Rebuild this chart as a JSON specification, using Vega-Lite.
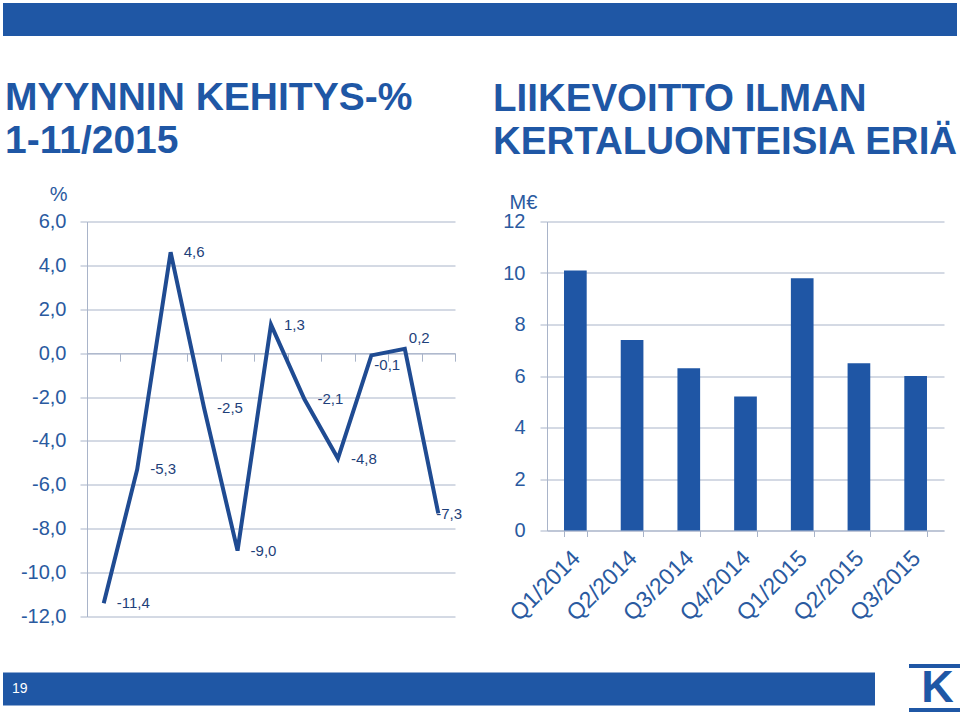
{
  "$schema": "https://vega.github.io/schema/vega-lite/v6.json",
  "background": "white",
  "padding": {"left": 3, "top": 3, "right": 2, "bottom": 3},
  "datasets": {
    "sales": [
      {"month": 1, "value": -11.4},
      {"month": 2, "value": -5.3},
      {"month": 3, "value": 4.6},
      {"month": 4, "value": -2.5},
      {"month": 5, "value": -9.0},
      {"month": 6, "value": 1.3},
      {"month": 7, "value": -2.1},
      {"month": 8, "value": -4.8},
      {"month": 9, "value": -0.1},
      {"month": 10, "value": 0.2},
      {"month": 11, "value": -7.3}
    ],
    "ebit": [
      {"quarter": "Q1/2014", "value": 10.1},
      {"quarter": "Q2/2014", "value": 7.4},
      {"quarter": "Q3/2014", "value": 6.3},
      {"quarter": "Q4/2014", "value": 5.2},
      {"quarter": "Q1/2015", "value": 9.8},
      {"quarter": "Q2/2015", "value": 6.5},
      {"quarter": "Q3/2015", "value": 6.0}
    ],
    "page": [{"page": "19"}],
    "logo": [{"part": "top"}, {"part": "bottom"}],
    "logotext": [{"mark": "K"}],
    "banner": [{"text": ""}]
  },
  "config": {
    "font": "Liberation Sans",
    "view": {"stroke": null},
    "locale": {"number": {"decimal": ",", "thousands": "\u00a0", "grouping": [3], "currency": ["", "\u00a0€"], "minus": "-"}},
    "axis": {
      "labelFont": "Liberation Sans",
      "titleFont": "Liberation Sans",
      "labelColor": "#2A5AA0",
      "titleColor": "#2A5AA0",
      "gridColor": "#A9B4C9",
      "domainColor": "#A9B4C9",
      "tickColor": "#A9B4C9",
      "gridWidth": 1,
      "domainWidth": 1,
      "tickWidth": 1,
      "labelFontSize": 20,
      "titleFontSize": 20,
      "titleFontWeight": "normal"
    },
    "title": {"font": "Liberation Sans"}
  },
  "columns": 1,
  "align": "none",
  "spacing": 37.5,
  "concat": [
    {
      "width": 954,
      "height": 33,
      "view": {"fill": "#1F57A5", "stroke": null},
      "data": {"name": "banner"},
      "mark": {"type": "text"},
      "encoding": {
        "x": {"datum": 0, "type": "quantitative", "scale": {"domain": [0, 1]}, "axis": null},
        "y": {"datum": 0, "type": "quantitative", "scale": {"domain": [0, 1]}, "axis": null},
        "text": {"field": "text"}
      }
    },
    {
      "columns": 2,
      "align": "none",
      "spacing": 30,
      "concat": [
        {
          "width": 452,
          "height": 395,
          "title": {
            "text": ["MYYNNIN KEHITYS-%", "1-11/2015"],
            "anchor": "start",
            "frame": "group",
            "dx": 2,
            "offset": 23.5,
            "fontSize": 39,
            "fontWeight": "bold",
            "color": "#1F57A5",
            "lineHeight": 43
          },
          "data": {"name": "sales"},
          "encoding": {
            "x": {
              "field": "month",
              "type": "ordinal",
              "bandPosition": 0.5,
              "scale": {"type": "band", "paddingInner": 0, "paddingOuter": 0, "range": [84, 452]},
              "axis": {
                "title": null,
                "labels": false,
                "tickBand": "extent",
                "tickSize": 8,
                "offset": -263.33,
                "domain": true,
                "grid": false
              }
            },
            "y": {
              "field": "value",
              "type": "quantitative",
              "scale": {"domain": [-12, 6], "nice": false, "zero": false},
              "axis": {
                "values": [-12, -10, -8, -6, -4, -2, 0, 2, 4, 6],
                "format": ".1f",
                "grid": true,
                "offset": -84,
                "tickSize": 7,
                "labelPadding": 14,
                "title": "%",
                "titleAngle": 0,
                "titleAlign": "right",
                "titleBaseline": "alphabetic",
                "titleX": -20,
                "titleY": -21
              }
            }
          },
          "layer": [
            {
              "transform": [{"filter": "datum.month <= 8"}],
              "mark": {"type": "text", "align": "left", "baseline": "middle", "dx": 13, "fontSize": 15, "color": "#1E3F7A"},
              "encoding": {"text": {"field": "value", "format": ".1f"}}
            },
            {
              "transform": [{"filter": "datum.month == 9"}],
              "mark": {"type": "text", "align": "left", "baseline": "middle", "dx": 3, "dy": 10, "fontSize": 15, "color": "#1E3F7A"},
              "encoding": {"text": {"field": "value", "format": ".1f"}}
            },
            {
              "transform": [{"filter": "datum.month == 10"}],
              "mark": {"type": "text", "align": "left", "baseline": "middle", "dx": 4, "dy": -11, "fontSize": 15, "color": "#1E3F7A"},
              "encoding": {"text": {"field": "value", "format": ".1f"}}
            },
            {
              "transform": [{"filter": "datum.month == 11"}],
              "mark": {"type": "text", "align": "left", "baseline": "middle", "dx": -2, "dy": 1, "fontSize": 15, "color": "#1E3F7A"},
              "encoding": {"text": {"field": "value", "format": ".1f"}}
            },
            {
              "mark": {"type": "line", "color": "#1F4B92", "strokeWidth": 4, "strokeJoin": "miter"}
            }
          ]
        },
        {
          "width": 397,
          "height": 309,
          "title": {
            "text": ["LIIKEVOITTO ILMAN", "KERTALUONTEISIA ERIÄ"],
            "anchor": "start",
            "frame": "group",
            "dx": -54,
            "offset": 30,
            "fontSize": 38.5,
            "fontWeight": "bold",
            "color": "#1F57A5",
            "lineHeight": 43
          },
          "data": {"name": "ebit"},
          "mark": {"type": "bar", "color": "#1F56A5"},
          "encoding": {
            "x": {
              "field": "quarter",
              "type": "nominal",
              "sort": null,
              "scale": {"paddingInner": 0.6, "paddingOuter": 0.3},
              "axis": {
                "title": null,
                "labelAngle": -45,
                "labelAlign": "right",
                "labelBaseline": "top",
                "labelPadding": 10,
                "labelOffset": -7,
                "labelFontSize": 23,
                "tickBand": "extent",
                "tickSize": 6
              }
            },
            "y": {
              "field": "value",
              "type": "quantitative",
              "scale": {"domain": [0, 12], "nice": false},
              "axis": {
                "values": [0, 2, 4, 6, 8, 10, 12],
                "format": "d",
                "grid": true,
                "tickSize": 7,
                "labelPadding": 15,
                "title": "M€",
                "titleAngle": 0,
                "titleAlign": "left",
                "titleBaseline": "alphabetic",
                "titleX": -38,
                "titleY": -13
              }
            }
          }
        }
      ]
    },
    {
      "spacing": 32,
      "center": true,
      "hconcat": [
        {
          "width": 872,
          "height": 33,
          "view": {"fill": "#1F57A5", "stroke": null},
          "data": {"name": "page"},
          "mark": {"type": "text", "align": "left", "baseline": "middle", "dx": 9, "fontSize": 14, "color": "white"},
          "encoding": {
            "x": {"datum": 0, "type": "quantitative", "scale": {"domain": [0, 1]}, "axis": null},
            "y": {"datum": 0.5, "type": "quantitative", "scale": {"domain": [0, 1]}, "axis": null},
            "text": {"field": "page"}
          }
        },
        {
          "width": 51,
          "height": 44,
          "layer": [
            {
              "data": {"name": "logo"},
              "mark": {"type": "rule", "color": "#1F57A5", "strokeWidth": 4},
              "encoding": {
                "y": {"field": "part", "type": "nominal", "scale": {"type": "point", "domain": ["top", "mid", "bottom"], "padding": 0}, "axis": null}
              }
            },
            {
              "data": {"name": "logotext"},
              "mark": {"type": "text", "fontSize": 45, "fontWeight": "bold", "color": "#1F57A5", "dx": 3, "baseline": "middle"},
              "encoding": {
                "x": {"datum": 0.5, "type": "quantitative", "scale": {"domain": [0, 1]}, "axis": null},
                "y": {"datum": "mid", "type": "nominal"},
                "text": {"field": "mark"}
              }
            }
          ]
        }
      ]
    }
  ]
}
